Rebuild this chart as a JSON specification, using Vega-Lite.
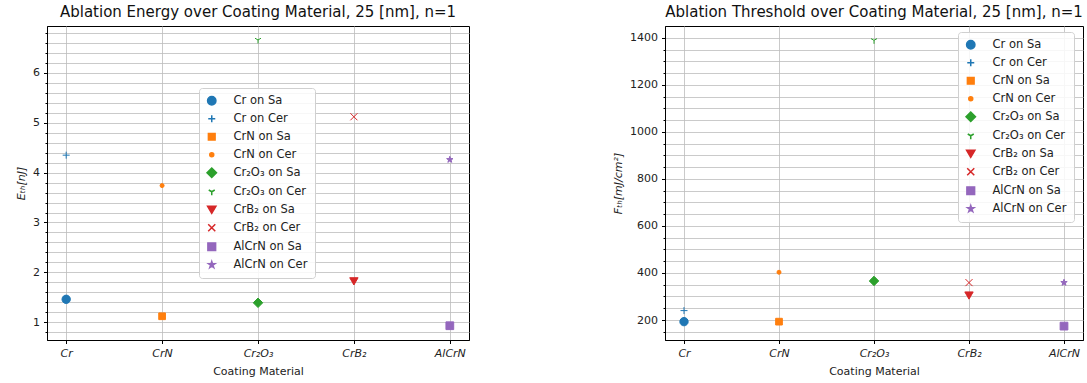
{
  "$schema": "https://vega.github.io/schema/vega-lite/v6.json",
  "background": "white",
  "padding": {"left": 15, "top": 4, "right": 0, "bottom": 0},
  "datasets": {
    "pts": [
      {"coating": "Cr", "series": "Cr on Sa", "E": 1.46, "F": 193},
      {"coating": "Cr", "series": "Cr on Cer", "E": 4.35, "F": 240},
      {"coating": "CrN", "series": "CrN on Sa", "E": 1.12, "F": 193},
      {"coating": "CrN", "series": "CrN on Cer", "E": 3.74, "F": 403},
      {"coating": "Cr₂O₃", "series": "Cr₂O₃ on Sa", "E": 1.39, "F": 366},
      {"coating": "Cr₂O₃", "series": "Cr₂O₃ on Cer", "E": 6.66, "F": 1389},
      {"coating": "CrB₂", "series": "CrB₂ on Sa", "E": 1.82, "F": 304},
      {"coating": "CrB₂", "series": "CrB₂ on Cer", "E": 5.12, "F": 359},
      {"coating": "AlCrN", "series": "AlCrN on Sa", "E": 0.93, "F": 174},
      {"coating": "AlCrN", "series": "AlCrN on Cer", "E": 4.26, "F": 359}
    ]
  },
  "config": {
    "font": "DejaVu Sans",
    "view": {"stroke": "black", "strokeWidth": 1},
    "title": {"fontSize": 15, "fontWeight": "normal", "color": "#111", "offset": 6, "anchor": "middle"},
    "axis": {"domainColor": "black", "tickColor": "black", "labelColor": "#222", "labelFontSize": 11, "titleFontSize": 11, "titleFontWeight": "normal", "titleColor": "#222", "gridColor": "#bdbdbd", "gridWidth": 0.8, "labelPadding": 4, "titlePadding": 6},
    "legend": {"labelFontSize": 11.5, "strokeColor": "#d0d0d0", "fillColor": "rgba(255,255,255,0.85)", "cornerRadius": 3, "padding": 7, "rowPadding": 4, "labelOffset": 16, "labelColor": "#222"}
  },
  "spacing": 142,
  "resolve": {
    "scale": {"fill": "independent", "stroke": "independent", "shape": "independent", "size": "independent"},
    "legend": {"fill": "independent", "stroke": "independent", "shape": "independent", "size": "independent"}
  },
  "hconcat": [
    {
      "width": 422,
      "height": 314,
      "title": "Ablation Energy over Coating Material, 25 [nm], n=1",
      "data": {"name": "pts"},
      "mark": {"type": "point", "filled": true, "opacity": 1, "strokeWidth": 1},
      "encoding": {
        "x": {"field": "coating", "type": "nominal", "scale": {"type": "point", "padding": 0.2, "domain": ["Cr", "CrN", "Cr₂O₃", "CrB₂", "AlCrN"]},
          "axis": {"title": "Coating Material", "labelAngle": 0, "labelFontStyle": "italic", "grid": true, "tickSize": 3.5, "titlePadding": 7}},
        "y": {"field": "E", "type": "quantitative", "scale": {"domain": [0.644, 6.94], "nice": false, "zero": false},
          "axis": {"title": "Eₜₕ[nJ]", "titleFontStyle": "italic", "grid": true,
            "values": [0.8,1,1.2,1.4,1.6,1.8,2,2.2,2.4,2.6,2.8,3,3.2,3.4,3.6,3.8,4,4.2,4.4,4.6,4.8,5,5.2,5.4,5.6,5.8,6,6.2,6.4,6.6,6.8],
            "labelExpr": "datum.value % 1 === 0 ? format(datum.value, 'd') : ''",
            "tickSize": {"condition": {"test": "datum.value % 1 === 0", "value": 3.5}, "value": 2}}},
        "fill": {"field": "series", "type": "nominal", "title": null,
          "scale": {"domain": ["Cr on Sa","Cr on Cer","CrN on Sa","CrN on Cer","Cr₂O₃ on Sa","Cr₂O₃ on Cer","CrB₂ on Sa","CrB₂ on Cer","AlCrN on Sa","AlCrN on Cer"],
            "range": ["#1f77b4","#1f77b4","#ff7f0e","#ff7f0e","#2ca02c","#2ca02c","#d62728","#d62728","#9467bd","#9467bd"]},
          "legend": {"orient": "none", "legendX": 152, "legendY": 62}},
        "stroke": {"field": "series", "type": "nominal", "title": null,
          "scale": {"domain": ["Cr on Sa","Cr on Cer","CrN on Sa","CrN on Cer","Cr₂O₃ on Sa","Cr₂O₃ on Cer","CrB₂ on Sa","CrB₂ on Cer","AlCrN on Sa","AlCrN on Cer"],
            "range": ["#1f77b4","#1f77b4","#ff7f0e","#ff7f0e","#2ca02c","#2ca02c","#d62728","#d62728","#9467bd","#9467bd"]}},
        "shape": {"field": "series", "type": "nominal", "title": null,
          "scale": {"domain": ["Cr on Sa","Cr on Cer","CrN on Sa","CrN on Cer","Cr₂O₃ on Sa","Cr₂O₃ on Cer","CrB₂ on Sa","CrB₂ on Cer","AlCrN on Sa","AlCrN on Cer"],
            "range": ["circle","M-1,0L1,0M0,-1L0,1","square","circle","diamond","M0,0L0,1M0,0L-0.866,-0.5M0,0L0.866,-0.5","triangle-down","M-1,-1L1,1M-1,1L1,-1","square","M0,-1L0.2245,-0.309L0.951,-0.309L0.363,0.118L0.588,0.809L0,0.382L-0.588,0.809L-0.363,0.118L-0.951,-0.309L-0.2245,-0.309Z"]}},
        "size": {"field": "series", "type": "nominal", "title": null,
          "scale": {"type": "ordinal", "domain": ["Cr on Sa","Cr on Cer","CrN on Sa","CrN on Cer","Cr₂O₃ on Sa","Cr₂O₃ on Cer","CrB₂ on Sa","CrB₂ on Cer","AlCrN on Sa","AlCrN on Cer"],
            "range": [70, 49, 45, 16, 90, 48, 70, 50, 60, 45]}}
      }
    },
    {
      "width": 418,
      "height": 314,
      "title": "Ablation Threshold over Coating Material, 25 [nm], n=1",
      "data": {"name": "pts"},
      "mark": {"type": "point", "filled": true, "opacity": 1, "strokeWidth": 1},
      "encoding": {
        "x": {"field": "coating", "type": "nominal", "scale": {"type": "point", "padding": 0.2, "domain": ["Cr", "CrN", "Cr₂O₃", "CrB₂", "AlCrN"]},
          "axis": {"title": "Coating Material", "labelAngle": 0, "labelFontStyle": "italic", "grid": true, "tickSize": 3.5, "titlePadding": 7}},
        "y": {"field": "F", "type": "quantitative", "scale": {"domain": [115, 1450], "nice": false, "zero": false},
          "axis": {"title": "Fₜₕ[mJ/cm²]", "titleFontStyle": "italic", "grid": true,
            "values": [150,200,250,300,350,400,450,500,550,600,650,700,750,800,850,900,950,1000,1050,1100,1150,1200,1250,1300,1350,1400],
            "labelExpr": "datum.value % 200 === 0 ? format(datum.value, 'd') : ''",
            "tickSize": {"condition": {"test": "datum.value % 200 === 0", "value": 3.5}, "value": 2}}},
        "fill": {"field": "series", "type": "nominal", "title": null,
          "scale": {"domain": ["Cr on Sa","Cr on Cer","CrN on Sa","CrN on Cer","Cr₂O₃ on Sa","Cr₂O₃ on Cer","CrB₂ on Sa","CrB₂ on Cer","AlCrN on Sa","AlCrN on Cer"],
            "range": ["#1f77b4","#1f77b4","#ff7f0e","#ff7f0e","#2ca02c","#2ca02c","#d62728","#d62728","#9467bd","#9467bd"]},
          "legend": {"orient": "none", "legendX": 293, "legendY": 6}},
        "stroke": {"field": "series", "type": "nominal", "title": null,
          "scale": {"domain": ["Cr on Sa","Cr on Cer","CrN on Sa","CrN on Cer","Cr₂O₃ on Sa","Cr₂O₃ on Cer","CrB₂ on Sa","CrB₂ on Cer","AlCrN on Sa","AlCrN on Cer"],
            "range": ["#1f77b4","#1f77b4","#ff7f0e","#ff7f0e","#2ca02c","#2ca02c","#d62728","#d62728","#9467bd","#9467bd"]}},
        "shape": {"field": "series", "type": "nominal", "title": null,
          "scale": {"domain": ["Cr on Sa","Cr on Cer","CrN on Sa","CrN on Cer","Cr₂O₃ on Sa","Cr₂O₃ on Cer","CrB₂ on Sa","CrB₂ on Cer","AlCrN on Sa","AlCrN on Cer"],
            "range": ["circle","M-1,0L1,0M0,-1L0,1","square","circle","diamond","M0,0L0,1M0,0L-0.866,-0.5M0,0L0.866,-0.5","triangle-down","M-1,-1L1,1M-1,1L1,-1","square","M0,-1L0.2245,-0.309L0.951,-0.309L0.363,0.118L0.588,0.809L0,0.382L-0.588,0.809L-0.363,0.118L-0.951,-0.309L-0.2245,-0.309Z"]}},
        "size": {"field": "series", "type": "nominal", "title": null,
          "scale": {"type": "ordinal", "domain": ["Cr on Sa","Cr on Cer","CrN on Sa","CrN on Cer","Cr₂O₃ on Sa","Cr₂O₃ on Cer","CrB₂ on Sa","CrB₂ on Cer","AlCrN on Sa","AlCrN on Cer"],
            "range": [70, 49, 45, 16, 90, 48, 70, 50, 60, 45]}}
      }
    }
  ]
}
